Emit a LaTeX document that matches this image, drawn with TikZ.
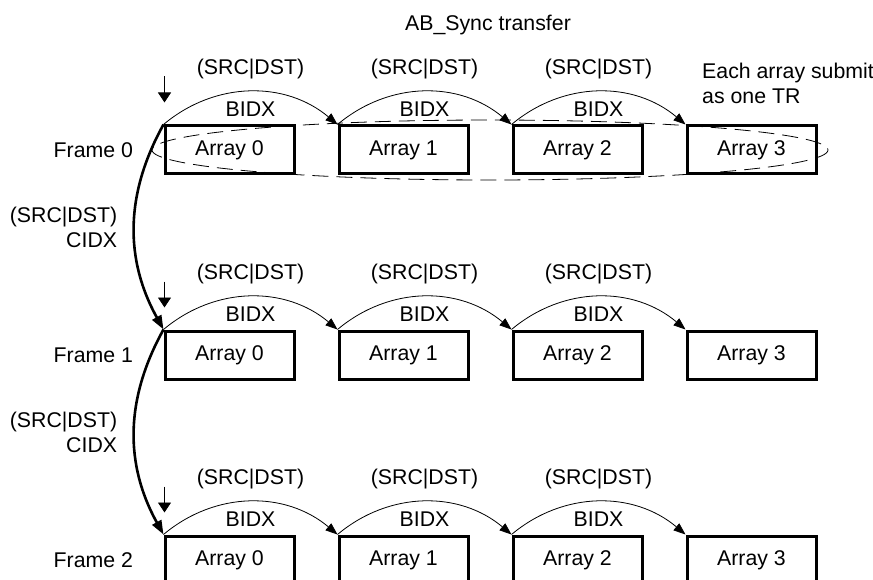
\documentclass[tikz,border=0pt]{standalone}
\usepackage{fontspec}
\setmainfont{Liberation Sans}
\usetikzlibrary{arrows.meta}

\begin{document}
\begin{tikzpicture}[x=1pt, y=-1pt, font=\fontsize{21.3}{25}\selectfont,
    arraybox/.style={draw, line width=3pt, minimum width=129pt, minimum height=48pt, inner sep=0pt},
    bidx/.style={-{Triangle[length=12pt,width=9pt]}, line width=0.8pt, bend left=40},
    cidx/.style={-{Triangle[length=14pt,width=10pt]}, line width=2.6pt, bend right=29},
    entry/.style={-{Triangle[length=10pt,width=13pt]}, line width=0.8pt}]
    \useasboundingbox (0,0) rectangle (873,580);
    % title
    \node (title) at (488,25) {AB\_Sync transfer};
    % three frames of four arrays
    \foreach \f/\y in {0/150, 1/355, 2/560} {
        \foreach \a in {0,...,3}
            \node[arraybox] (f\f a\a) at (229.5+174*\a, \y) {Array \a};
        \node[anchor=east] (frame\f) at ([xshift=-27pt]f\f a0.west) {Frame \f};
        % entry arrow at the first array
        \coordinate (in\f) at ([xshift=1pt, yshift=48pt]f\f a0.north west);
        \draw[entry] (in\f) -- ([xshift=1pt, yshift=22pt]f\f a0.north west);
        % BIDX steps
        \foreach \a [count=\b] in {0,1,2}
            \draw[bidx] (f\f a\a.north west) to
                node[midway, anchor=base, yshift=17pt] (s\f\a) {(SRC|DST)}
                node[midway, anchor=base, yshift=-25pt] (b\f\a) {BIDX}
                (f\f a\b.north west);
    }
    % CIDX steps between frames
    \draw[cidx] (f0a0.north west) to
        node[midway, anchor=east, align=right, inner sep=0pt, xshift=-16pt] (c0) {(SRC|DST)\\CIDX}
        (f1a0.north west);
    \draw[cidx] (f1a0.north west) to
        node[midway, anchor=east, align=right, inner sep=0pt, xshift=-16pt] (c1) {(SRC|DST)\\CIDX}
        (f2a0.north west);
    % frame 0 as one TR
    \draw[dash pattern=on 16pt off 8pt, line width=0.8pt] (490,150) ellipse (338 and 30);
    \node[anchor=west, align=left, inner sep=0pt] (note) at (702,83) {Each array submit\\as one TR};
\end{tikzpicture}
\end{document}
